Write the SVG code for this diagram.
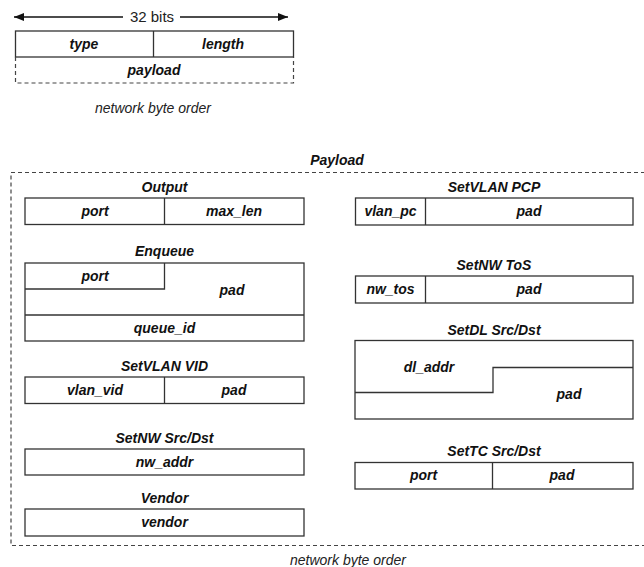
<svg xmlns="http://www.w3.org/2000/svg" width="644" height="567" viewBox="0 0 644 567">
<defs>
<style>
.b{fill:none;stroke:#333;stroke-width:1.3}
.d{fill:none;stroke:#444;stroke-width:1.2;stroke-dasharray:4 3}
.t{font-family:"Liberation Sans",Arial,sans-serif;font-size:14px;font-weight:bold;font-style:italic;fill:#111;text-anchor:middle}
.n{font-family:"Liberation Sans",Arial,sans-serif;font-size:14px;font-style:italic;fill:#222;text-anchor:middle}
.r{font-family:"Liberation Sans",Arial,sans-serif;font-size:15px;fill:#222;text-anchor:middle}
</style>
<marker id="ah" viewBox="0 0 10 8" refX="10" refY="4" markerWidth="10" markerHeight="8" markerUnits="userSpaceOnUse" orient="auto-start-reverse">
<path d="M0,0 L10,4 L0,8 Z" fill="#111"/>
</marker>
</defs>
<rect width="644" height="567" fill="#fff"/>

<g id="header">
<line x1="123" y1="17" x2="14" y2="17" stroke="#111" stroke-width="1.3" marker-end="url(#ah)"/>
<line x1="180" y1="17" x2="288" y2="17" stroke="#111" stroke-width="1.3" marker-end="url(#ah)"/>
<text class="r" x="152" y="22">32 bits</text>
<rect class="b" x="15.5" y="31" width="278" height="26"/>
<line class="b" x1="153.5" y1="31" x2="153.5" y2="57"/>
<text class="t" x="84" y="49">type</text>
<text class="t" x="223" y="49">length</text>
<path class="d" d="M15.5,57 V83 H293.5 V57"/>
<text class="t" x="154" y="75">payload</text>
<text class="n" x="153" y="113">network byte order</text>
</g>

<g id="payload">
<rect class="d" x="11" y="172.5" width="670" height="373"/>
<text class="t" x="337" y="165">Payload</text>
<text class="n" x="348" y="565">network byte order</text>
</g>

<g id="output">
<text class="t" x="164.5" y="192">Output</text>
<rect class="b" x="25" y="198" width="279" height="26.5"/>
<line class="b" x1="164.5" y1="198" x2="164.5" y2="224.5"/>
<text class="t" x="95" y="216">port</text>
<text class="t" x="234" y="216">max_len</text>
</g>

<g id="enqueue">
<text class="t" x="164.5" y="256">Enqueue</text>
<rect class="b" x="25" y="263" width="279" height="78"/>
<path class="b" d="M25,289 H164.5 V263"/>
<line class="b" x1="25" y1="315" x2="304" y2="315"/>
<text class="t" x="95" y="281">port</text>
<text class="t" x="232" y="295">pad</text>
<text class="t" x="164.5" y="333">queue_id</text>
</g>

<g id="setvlanvid">
<text class="t" x="164.5" y="371">SetVLAN VID</text>
<rect class="b" x="25" y="377" width="279" height="26.5"/>
<line class="b" x1="164.5" y1="377" x2="164.5" y2="403.5"/>
<text class="t" x="95" y="395">vlan_vid</text>
<text class="t" x="234" y="395">pad</text>
</g>

<g id="setnwsrcdst">
<text class="t" x="164.5" y="443">SetNW Src/Dst</text>
<rect class="b" x="25" y="449" width="279" height="26"/>
<text class="t" x="164.5" y="467">nw_addr</text>
</g>

<g id="vendor">
<text class="t" x="164.5" y="503">Vendor</text>
<rect class="b" x="25" y="509" width="279" height="27"/>
<text class="t" x="164.5" y="527">vendor</text>
</g>

<g id="setvlanpcp">
<text class="t" x="494" y="192">SetVLAN PCP</text>
<rect class="b" x="355.5" y="198" width="277.5" height="27"/>
<line class="b" x1="425.5" y1="198" x2="425.5" y2="225"/>
<text class="t" x="390.5" y="216">vlan_pc</text>
<text class="t" x="529" y="216">pad</text>
</g>

<g id="setnwtos">
<text class="t" x="494" y="270">SetNW ToS</text>
<rect class="b" x="355.5" y="276" width="277.5" height="27"/>
<line class="b" x1="425.5" y1="276" x2="425.5" y2="303"/>
<text class="t" x="390.5" y="294">nw_tos</text>
<text class="t" x="529" y="294">pad</text>
</g>

<g id="setdlsrcdst">
<text class="t" x="494" y="335">SetDL Src/Dst</text>
<rect class="b" x="355" y="340.5" width="278" height="78.5"/>
<path class="b" d="M355,392.5 H493 V367.5 H633"/>
<text class="t" x="429" y="372">dl_addr</text>
<text class="t" x="569" y="399">pad</text>
</g>

<g id="settcsrcdst">
<text class="t" x="494" y="456">SetTC Src/Dst</text>
<rect class="b" x="355" y="462.5" width="278" height="26.5"/>
<line class="b" x1="492.5" y1="462.5" x2="492.5" y2="489"/>
<text class="t" x="423.5" y="480">port</text>
<text class="t" x="562" y="480">pad</text>
</g>

<g id="connectors"></g>
</svg>
